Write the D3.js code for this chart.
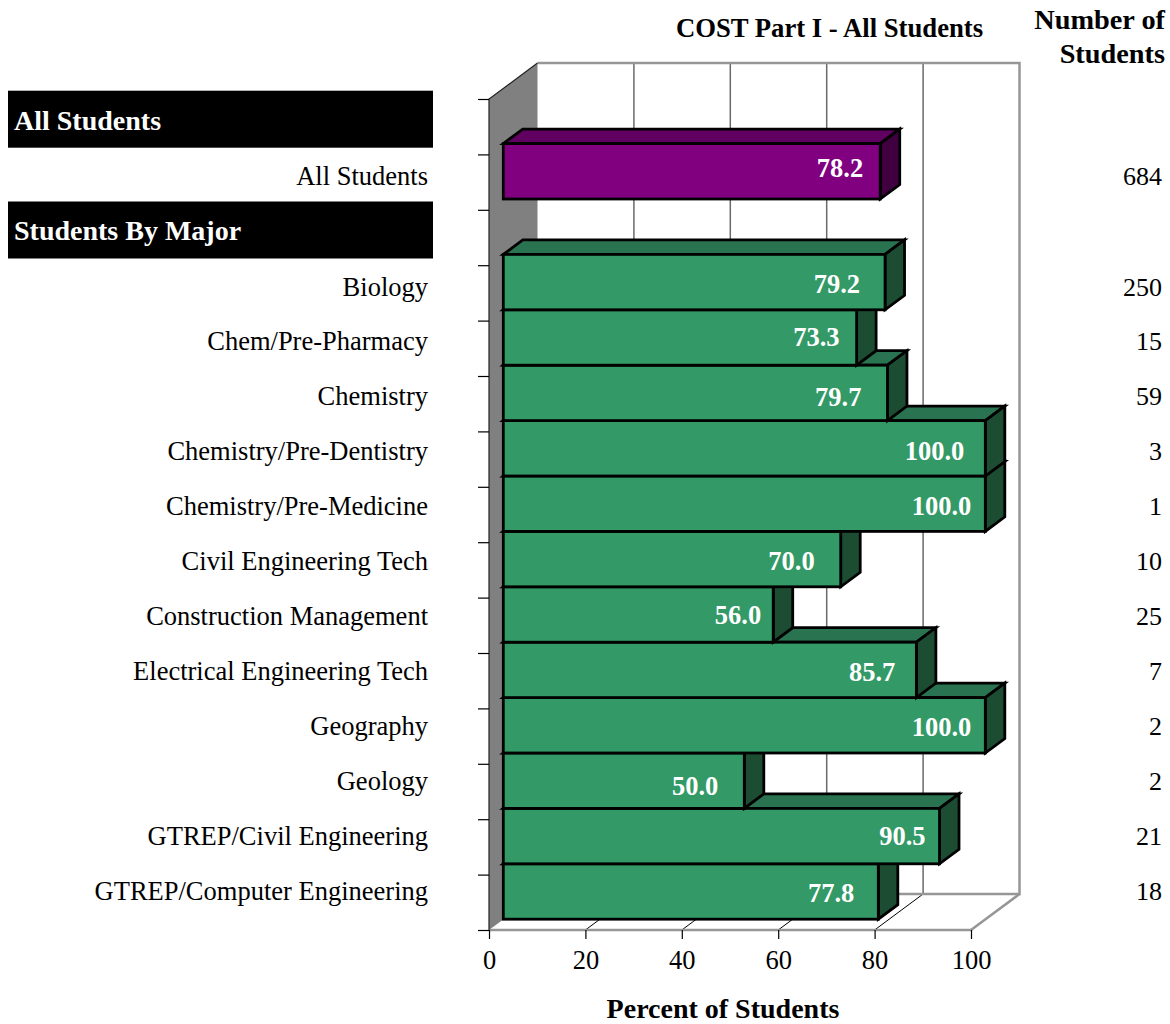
<!DOCTYPE html>
<html><head><meta charset="utf-8">
<script src="https://cdn.jsdelivr.net/npm/d3@7/dist/d3.min.js"></script>
<style>html,body{margin:0;padding:0;background:#fff}svg{display:block}text{font-family:"Liberation Serif","Times New Roman",serif}</style>
</head><body><svg id="c" width="1170" height="1024"></svg>
<script>
const rows = ["All Students","All Students","Students By Major","Biology","Chem/Pre-Pharmacy","Chemistry","Chemistry/Pre-Dentistry","Chemistry/Pre-Medicine","Civil Engineering Tech","Construction Management","Electrical Engineering Tech","Geography","Geology","GTREP/Civil Engineering","GTREP/Computer Engineering"];
const kinds = ["head","all","head","major","major","major","major","major","major","major","major","major","major","major","major"];
const values = [null,78.2,null,79.2,73.3,79.7,100.0,100.0,70.0,56.0,85.7,100.0,50.0,90.5,77.8];
const counts = [null,684,null,250,15,59,3,1,10,25,7,2,2,21,18];
const xTicks = [0,20,40,60,80,100];
const labelGaps = [0,17,0,25,17,26,21,14,26,12,21,14,26,14,24];
const labelLift = [0,-3,0,2,-1,4,3,2,2,0,2,2,5,0,1];
const palette = {all:["#800080","#600060","#400040"],major:["#339966","#2a7350","#1c4d33"]};

const W=1170,H=1024, wallDx=48.5, wallDy=-36, barDx=14.3, barDy=-10.8, faceDx=19.5, faceDy=-14.5;
const svg=d3.select("#c");
const x=d3.scaleLinear().domain([0,100]).range([489,971]);
const idx=d3.range(rows.length);
const y=d3.scaleBand().domain(idx).range([99,930]).paddingInner(0).paddingOuter(0);
const yTick=d3.scaleLinear().domain([0,rows.length]).range([99,930]);
const yText=d3.scaleLinear().domain([0,1,3,14]).range([129.5,184.5,295.5,899.5]);
const yB=930, yT=99;
const line=(p,s,w)=>svg.append("path").attr("d",d3.line()(p)).attr("fill","none").attr("stroke",s).attr("stroke-width",w);

// walls
svg.append("path").attr("d",d3.line()([[x(0),yT],[x(0)+wallDx,yT+wallDy],[x(0)+wallDx,yB+wallDy],[x(0),yB]])+"Z").attr("fill","#808080");
svg.selectAll(".grid").data(xTicks.slice(1,-1)).join("line")
  .attr("x1",d=>x(d)+wallDx).attr("x2",d=>x(d)+wallDx).attr("y1",yT+wallDy).attr("y2",yB+wallDy)
  .attr("stroke","#6a6a6a").attr("stroke-width",1.5);
svg.selectAll(".fgrid").data(xTicks.slice(1,-1)).join("line")
  .attr("x1",d=>x(d)).attr("x2",d=>x(d)+wallDx).attr("y1",yB).attr("y2",yB+wallDy)
  .attr("stroke","#000").attr("stroke-width",1);
line([[x(0)+wallDx,yT+wallDy],[x(100)+wallDx,yT+wallDy],[x(100)+wallDx,yB+wallDy],[x(0)+wallDx,yB+wallDy]],"#969696",2.5);
line([[x(100),yB],[x(100)+wallDx,yB+wallDy]],"#969696",2.5);
line([[x(0),yB],[x(100),yB]],"#969696",2.5);
line([[x(0),yB],[x(0),yT],[x(0)+wallDx,yT+wallDy]],"#222",1.2);

// axes
const gx=svg.append("g").attr("transform",`translate(0,${yB})`).call(d3.axisBottom(x).tickValues(xTicks).tickSize(9).tickFormat(d=>d));
gx.select(".domain").remove();
gx.selectAll("line").attr("stroke","#000").attr("stroke-width",1.2);
gx.selectAll("text").attr("y",20).attr("dy",0).attr("dominant-baseline","hanging").attr("font-size",26.5).attr("fill","#000").attr("font-family","Liberation Serif");
const gy=svg.append("g").attr("transform",`translate(${x(0)},0)`).call(d3.axisLeft(yTick).ticks(rows.length).tickSize(11).tickFormat(""));
gy.select(".domain").remove();
gy.selectAll("line").attr("stroke","#000").attr("stroke-width",1.2);

// bars: lower rows first, so each upper bar's front hides the top face below it
idx.filter(i=>values[i]!==null).reverse().forEach(i=>{
  const [front,top,side]=palette[kinds[i]];
  const x0=x(0)+barDx, x1=x(values[i])+barDx, y0=y(i)+barDy, y1=y0+y.bandwidth();
  const g=svg.append("g").attr("stroke","#000").attr("stroke-width",2.8).attr("stroke-linejoin","miter");
  g.append("path").attr("d",d3.line()([[x0,y0],[x0+faceDx,y0+faceDy],[x1+faceDx,y0+faceDy],[x1,y0]])+"Z").attr("fill",top);
  g.append("path").attr("d",d3.line()([[x1,y0],[x1+faceDx,y0+faceDy],[x1+faceDx,y1+faceDy],[x1,y1]])+"Z").attr("fill",side);
  g.append("rect").attr("x",x0).attr("y",y0).attr("width",x1-x0).attr("height",y1-y0).attr("fill",front);
  svg.append("text").attr("x",x1-labelGaps[i]).attr("y",y0+y.bandwidth()/2+9+labelLift[i]).attr("text-anchor","end")
    .attr("font-size",26.5).attr("font-weight","bold").attr("fill","#fff").text(values[i].toFixed(1));
});

// row labels
idx.forEach(i=>{
  const cy=y(i)+y.bandwidth()/2;
  if(kinds[i]==="head"){
    svg.append("rect").attr("x",8).attr("y",cy-36).attr("width",425).attr("height",57).attr("fill","#000");
    svg.append("text").attr("x",14).attr("y",yText(i)).attr("font-size",28).attr("font-weight","bold").attr("fill","#fff").text(rows[i]);
  } else {
    svg.append("text").attr("x",428).attr("y",yText(i)).attr("text-anchor","end").attr("font-size",26.5).attr("fill","#000").text(rows[i]);
    svg.append("text").attr("x",1162).attr("y",yText(i)).attr("text-anchor","end").attr("font-size",26).attr("fill","#000").text(counts[i]);
  }
});

// titles
const t=(s,px,py,a,fs)=>svg.append("text").attr("x",px).attr("y",py).attr("text-anchor",a).attr("font-size",fs).attr("font-weight","bold").attr("fill","#000").text(s);
t("COST Part I - All Students",829.5,37,"middle",26.7);
t("Number of",1165,29,"end",28.3);
t("Students",1165,63,"end",28.3);
t("Percent of Students",723,1017.8,"middle",28);
</script></body></html>
